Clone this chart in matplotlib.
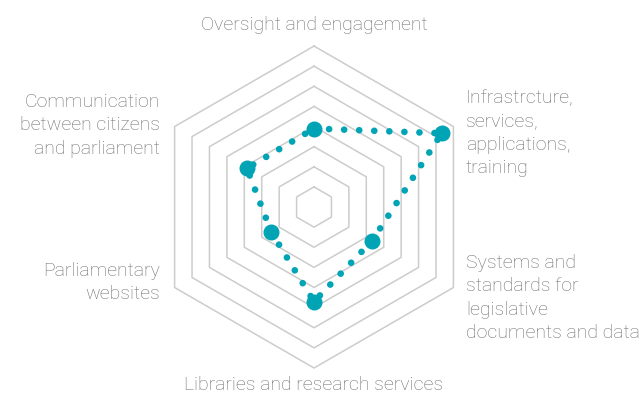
import numpy as np
import matplotlib.pyplot as plt

categories = ['Oversight and engagement',
              'Infrastrcture,\nservices,\napplications,\ntraining',
              'Systems and\nstandards for\nlegislative\ndocuments and data',
              'Libraries and research services',
              'Parliamentary\nwebsites',
              'Communication\nbetween citizens\nand parliament']
values = [3.9, 7.33, 3.34, 4.7, 2.46, 3.85]
rings = [1, 2, 3, 4, 5, 6, 7, 8]

teal = '#00a4b4'
grey = '#6e6e6e'
plt.rcParams['font.family'] = ['Roboto', 'DejaVu Sans']

fig = plt.figure(figsize=(6.44, 3.96), dpi=100)
ax = fig.add_axes([0.2376, 0.0707, 0.5, 0.813], projection='polar')
ax.set_theta_offset(np.pi / 2)
ax.set_theta_direction(-1)
ax.set_ylim(0, 8)
ax.axis('off')

angles = np.arange(len(categories)) * 2 * np.pi / len(categories)
closed = np.append(angles, angles[0])

# hexagonal rings, no spokes
for r in rings:
    ax.plot(closed, [r] * len(closed), color='#cccccc', lw=1.1, clip_on=False)

vals = values + values[:1]
ax.plot(closed, vals, color=teal, lw=4.8, linestyle=(0, (0.01, 2.25)),
        dash_capstyle='round', clip_on=False)
ax.plot(angles, values, 'o', color=teal, ms=10.5, clip_on=False, zorder=5)

# label positions in figure pixels (x from left, y from top), alignment
pos = [(314, 25, 'center', 'center'),
       (466, 89, 'left', 'top'),
       (466, 254, 'left', 'top'),
       (314, 385, 'center', 'center'),
       (160, 262, 'right', 'top'),
       (160, 93, 'right', 'top')]
for lab, (x, y, ha, va) in zip(categories, pos):
    fig.text(x / 644, 1 - y / 396, lab, ha=ha, va=va, color=grey,
             fontsize=14, fontweight='light', linespacing=1.38,
             multialignment=ha)

fig.savefig('out.png', dpi=100)
